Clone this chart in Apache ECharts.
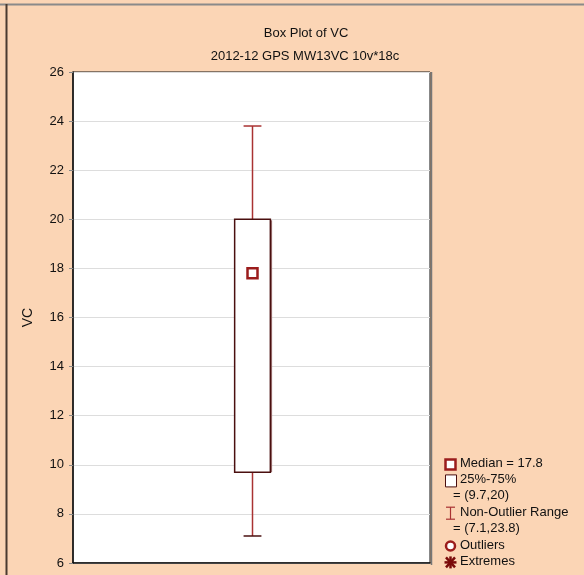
<!DOCTYPE html>
<html>
<head>
<meta charset="utf-8">
<style>
  html, body { margin: 0; padding: 0; background: #FBD5B5; }
  #chart { width: 584px; height: 575px; }
</style>
<script src="https://cdn.jsdelivr.net/npm/echarts@6/dist/echarts.min.js"></script>
</head>
<body>
<div id="chart"></div>
<script>
// Summary statistics of VC
const categories = ['VC'];
const minValues = [7.1];
const q1Values = [9.7];
const medianValues = [17.8];
const q3Values = [20];
const maxValues = [23.8];
const yTicks = [6, 8, 10, 12, 14, 16, 18, 20, 22, 24, 26];

const titleText = 'Box Plot of VC';
const subtitleText = '2012-12 GPS MW13VC 10v*18c';
const axisName = 'VC';

const boxData = categories.map((c, i) => [i, minValues[i], q1Values[i], medianValues[i], q3Values[i], maxValues[i]]);

const whiskerColor = '#A93232';
const boxColor = '#4A0F0F';
const medianColor = '#9B1C1C';
const font = 'Liberation Sans, Arial, sans-serif';

function renderBox(params, api) {
  const idx = api.value(0);
  const pMin = api.coord([idx, api.value(1)]);
  const pQ1 = api.coord([idx, api.value(2)]);
  const pMed = api.coord([idx, api.value(3)]);
  const pQ3 = api.coord([idx, api.value(4)]);
  const pMax = api.coord([idx, api.value(5)]);
  const band = api.size([1, 0])[0];
  const cx = Math.round(pQ1[0]) + 0.5;
  const halfBox = band * 0.05;
  const halfCap = band * 0.025;
  const wStyle = { stroke: whiskerColor, lineWidth: 1.5 };
  return {
    type: 'group',
    children: [
      // upper whisker + cap
      { type: 'line', shape: { x1: cx, y1: pQ3[1], x2: cx, y2: pMax[1] }, style: wStyle },
      { type: 'line', shape: { x1: cx - halfCap, y1: pMax[1], x2: cx + halfCap, y2: pMax[1] }, style: wStyle },
      // lower whisker + cap
      { type: 'line', shape: { x1: cx, y1: pQ1[1], x2: cx, y2: pMin[1] }, style: wStyle },
      { type: 'line', shape: { x1: cx - halfCap, y1: pMin[1], x2: cx + halfCap, y2: pMin[1] }, style: { stroke: boxColor, lineWidth: 1.5 } },
      // box shadow
      { type: 'line', shape: { x1: cx + halfBox + 1, y1: pQ3[1] + 1, x2: cx + halfBox + 1, y2: pQ1[1] }, style: { stroke: '#9A7070', lineWidth: 1.5 } },
      // interquartile box
      { type: 'rect', shape: { x: cx - halfBox, y: pQ3[1], width: halfBox * 2, height: pQ1[1] - pQ3[1] },
        style: { fill: '#FFFFFF', stroke: boxColor, lineWidth: 1.5 } },
      // median marker
      { type: 'rect', shape: { x: cx - 5, y: pMed[1] - 5, width: 10, height: 10 },
        style: { fill: '#FFFFFF', stroke: medianColor, lineWidth: 2.5 } }
    ]
  };
}

// legend graphics
const lgX = 445;
const lgY = 464;
const rowH = 16.4;
const lgText = (i, t, dx) => ({
  type: 'text', left: lgX + (dx || 15), top: lgY + i * rowH - 7.5,
  style: { text: t, fill: '#111', font: '13px ' + font }
});
const legend = [
  { type: 'rect', shape: { x: lgX + 0.5, y: lgY - 4.5, width: 10, height: 10 }, style: { fill: '#FFFFFF', stroke: medianColor, lineWidth: 2.5 } },
  lgText(0, 'Median = ' + medianValues[0]),
  { type: 'rect', shape: { x: lgX + 0.5, y: lgY + rowH - 5.5, width: 11, height: 12 }, style: { fill: '#FFFFFF', stroke: boxColor, lineWidth: 1 } },
  lgText(1, '25%-75%'),
  lgText(2, '= (' + q1Values[0] + ',' + q3Values[0] + ')', 8),
  { type: 'line', shape: { x1: lgX + 5.5, y1: lgY + 3 * rowH - 6, x2: lgX + 5.5, y2: lgY + 3 * rowH + 6 }, style: { stroke: whiskerColor, lineWidth: 1.2 } },
  { type: 'line', shape: { x1: lgX + 1, y1: lgY + 3 * rowH - 6, x2: lgX + 10, y2: lgY + 3 * rowH - 6 }, style: { stroke: whiskerColor, lineWidth: 1.2 } },
  { type: 'line', shape: { x1: lgX + 1, y1: lgY + 3 * rowH + 6, x2: lgX + 10, y2: lgY + 3 * rowH + 6 }, style: { stroke: whiskerColor, lineWidth: 1.2 } },
  lgText(3, 'Non-Outlier Range'),
  lgText(4, '= (' + minValues[0] + ',' + maxValues[0] + ')', 8),
  { type: 'circle', shape: { cx: lgX + 5.5, cy: lgY + 5 * rowH, r: 4.5 }, style: { fill: '#FFFFFF', stroke: medianColor, lineWidth: 2.5 } },
  lgText(5, 'Outliers'),
  { type: 'group', children: [
    { type: 'line', shape: { x1: lgX - 0.5, y1: lgY + 6 * rowH, x2: lgX + 11.5, y2: lgY + 6 * rowH }, style: { stroke: '#7A0A0A', lineWidth: 2.5 } },
    { type: 'line', shape: { x1: lgX + 5.5, y1: lgY + 6 * rowH - 6, x2: lgX + 5.5, y2: lgY + 6 * rowH + 6 }, style: { stroke: '#7A0A0A', lineWidth: 2.5 } },
    { type: 'line', shape: { x1: lgX + 1, y1: lgY + 6 * rowH - 5, x2: lgX + 10, y2: lgY + 6 * rowH + 5 }, style: { stroke: '#7A0A0A', lineWidth: 2.5 } },
    { type: 'line', shape: { x1: lgX + 10, y1: lgY + 6 * rowH - 5, x2: lgX + 1, y2: lgY + 6 * rowH + 5 }, style: { stroke: '#7A0A0A', lineWidth: 2.5 } }
  ] },
  lgText(6, 'Extremes')
];

// window frame edges
const frame = [
  { type: 'line', shape: { x1: 0, y1: 4.5, x2: 584, y2: 4.5 }, style: { stroke: '#8A8A8A', lineWidth: 2 } },
  { type: 'line', shape: { x1: 6.5, y1: 4, x2: 6.5, y2: 575 }, style: { stroke: '#4A3A30', lineWidth: 2 } },
  { type: 'line', shape: { x1: 431.5, y1: 72, x2: 431.5, y2: 565 }, style: { stroke: '#777', lineWidth: 1.5 } }
];

const chart = echarts.init(document.getElementById('chart'), null, { renderer: 'canvas' });
chart.setOption({
  backgroundColor: '#FBD5B5',
  animation: false,
  title: [
    { text: titleText, left: 301, top: 22, textAlign: 'center',
      textStyle: { fontFamily: font, fontSize: 13, fontWeight: 'normal', color: '#111' } },
    { text: subtitleText, left: 300, top: 45, textAlign: 'center',
      textStyle: { fontFamily: font, fontSize: 13, fontWeight: 'normal', color: '#111' } }
  ],
  grid: { left: 73, right: 154, top: 72, bottom: 12, show: true, backgroundColor: '#FFFFFF', borderColor: '#111', borderWidth: 1 },
  xAxis: {
    type: 'category', data: categories,
    axisLine: { show: true, lineStyle: { color: '#111', width: 1.5 } },
    axisTick: { show: false }, axisLabel: { show: false }, splitLine: { show: false }
  },
  yAxis: {
    type: 'value', min: yTicks[0], max: yTicks[yTicks.length - 1], interval: 2,
    name: axisName, nameLocation: 'middle', nameGap: 38, nameRotate: 90,
    nameTextStyle: { fontFamily: font, fontSize: 14, color: '#111' },
    axisLine: { show: true, lineStyle: { color: '#111', width: 1.5 } },
    axisTick: { show: true, length: 4, inside: false, lineStyle: { color: '#888' } },
    axisLabel: { fontFamily: font, fontSize: 13, color: '#111', margin: 9 },
    splitLine: { show: true, lineStyle: { color: '#DDDDDD', width: 1 } }
  },
  series: [{
    type: 'custom',
    renderItem: renderBox,
    encode: { x: 0, y: [1, 2, 3, 4, 5] },
    data: boxData,
    z: 5
  }],
  graphic: frame.concat(legend)
});
</script>
</body>
</html>
